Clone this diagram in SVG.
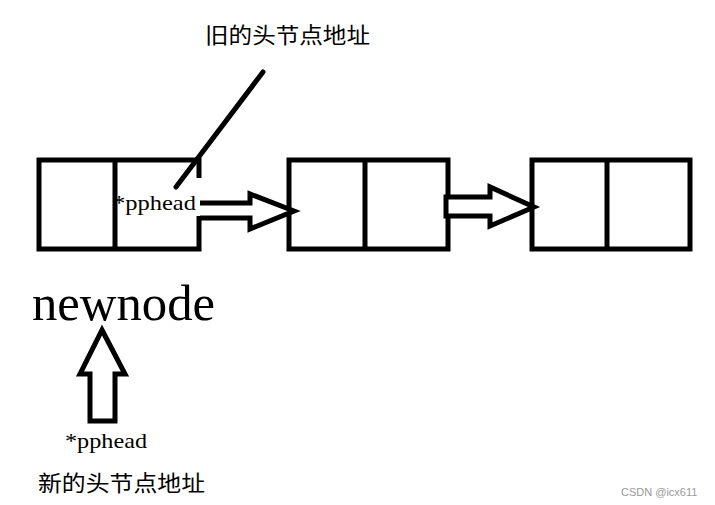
<svg xmlns="http://www.w3.org/2000/svg" width="715" height="505" viewBox="0 0 715 505">
<style>
.ln{fill:none;stroke:#000;stroke-width:5;stroke-linejoin:miter;}
.ar{fill:#fff;stroke:#000;stroke-width:5;stroke-linejoin:miter;}
.lat{font-family:"Liberation Serif","DejaVu Serif",serif;fill:#000;}
.cjk{font-family:"Noto Sans CJK SC","Noto Sans CJK JP",sans-serif;fill:#000;font-size:22px;}
</style>
<rect width="715" height="505" fill="#fff"/>
<g id="node1">
<path class="ln" d="M199,178 V160 H39 V249 H199 V216"/>
<line class="ln" x1="115" y1="158" x2="115" y2="251"/>
<text class="lat" x="113" y="210" font-size="21" textLength="83" lengthAdjust="spacingAndGlyphs">*pphead</text>
</g>
<g id="node2">
<rect class="ln" x="289" y="160" width="159" height="89"/>
<line class="ln" x1="365" y1="158" x2="365" y2="251"/>
</g>
<g id="node3">
<rect class="ln" x="532" y="160" width="158" height="89"/>
<line class="ln" x1="607" y1="158" x2="607" y2="251"/>
</g>
<g id="newnode">
<text class="lat" x="32" y="320" font-size="51" textLength="183" lengthAdjust="spacingAndGlyphs">newnode</text>
</g>
<g id="label-old">
<text class="cjk" x="205" y="43" textLength="165" lengthAdjust="spacingAndGlyphs">旧的头节点地址</text>
</g>
<g id="label-new">
<text class="lat" x="65" y="448" font-size="21" textLength="82" lengthAdjust="spacingAndGlyphs">*pphead</text>
<text class="cjk" x="38" y="491" textLength="167" lengthAdjust="spacingAndGlyphs">新的头节点地址</text>
</g>
<g id="connectors">
<line x1="263" y1="72" x2="176" y2="187" stroke="#000" stroke-width="5" stroke-linecap="round"/>
<polyline class="ar" points="200,203 250,203 250,194 294,211 250,229 250,218 200,218"/>
<polygon class="ar" points="446,197 490,197 490,187 534,207 490,226 490,216 446,216"/>
<polygon class="ar" points="102,330 125,374 115,374 115,421 90,421 90,374 80,374"/>
</g>
<text x="621" y="496" font-family="Liberation Sans, Arial, sans-serif" font-size="11" fill="#999">CSDN @icx611</text>
</svg>
